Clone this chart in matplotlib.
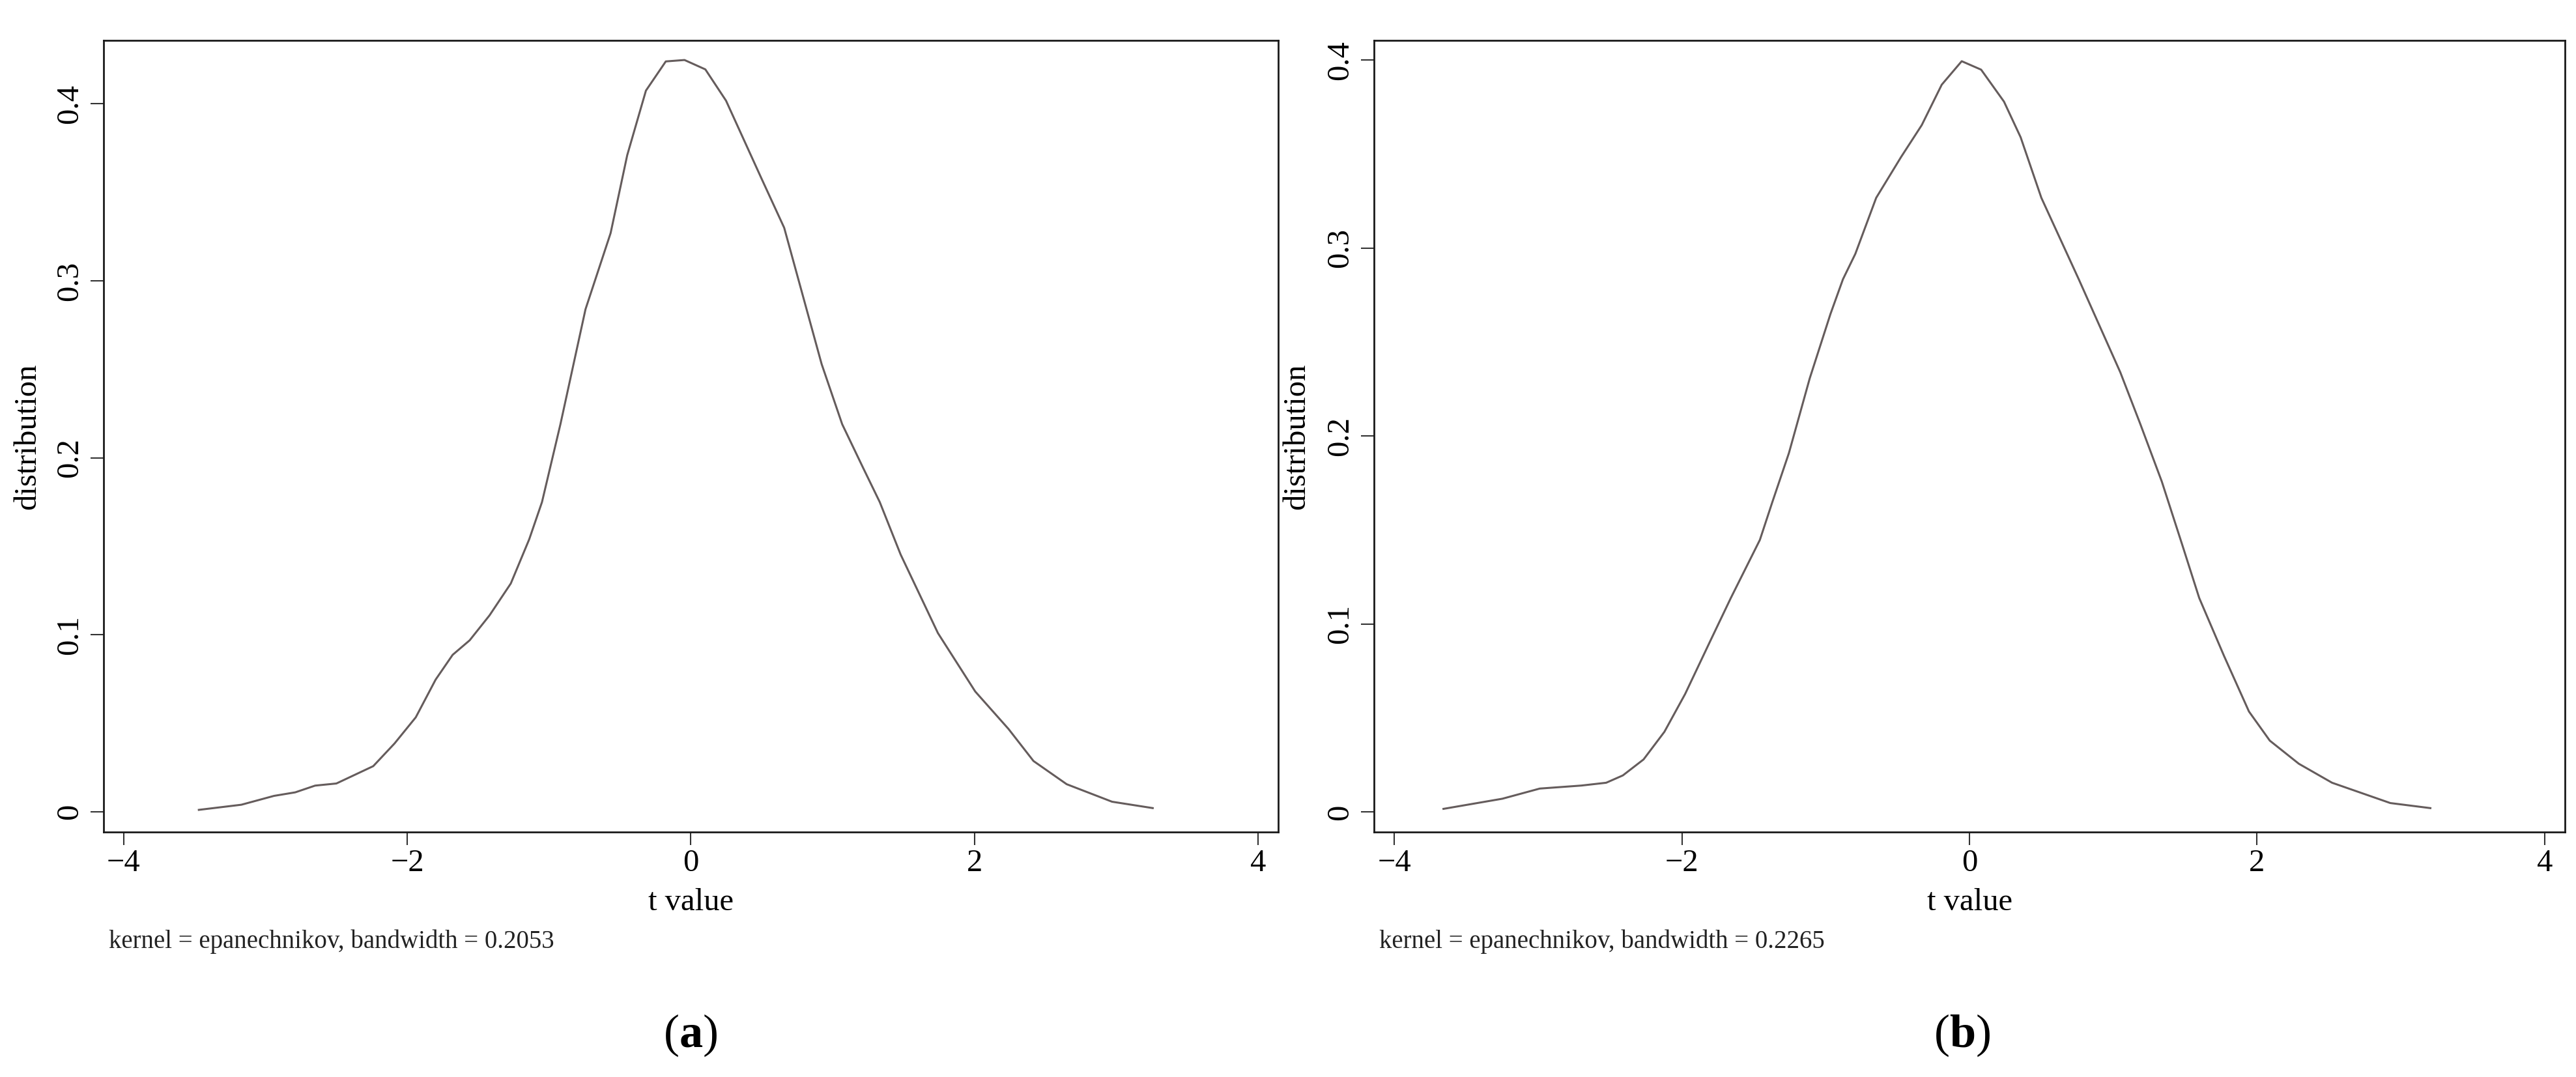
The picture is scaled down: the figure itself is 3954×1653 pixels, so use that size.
import matplotlib
matplotlib.use("Agg")
import matplotlib.pyplot as plt

plt.rcParams['font.family'] = ['Liberation Serif', 'DejaVu Serif']
plt.rcParams['mathtext.fontset'] = 'custom'
plt.rcParams['mathtext.rm'] = 'Liberation Serif'
plt.rcParams['mathtext.bf'] = 'Liberation Serif:bold'

# kernel density estimates
t_a = [-3.47, -3.17, -2.94, -2.79, -2.65, -2.50, -2.24, -2.09, -1.94, -1.80,
       -1.68, -1.56, -1.42, -1.27, -1.14, -1.05, -0.92, -0.743, -0.566, -0.449,
       -0.317, -0.177, -0.045, 0.102, 0.248, 0.497, 0.658, 0.922, 1.067, 1.213,
       1.332, 1.479, 1.742, 2.005, 2.24, 2.416, 2.65, 2.97, 3.257]
dens_a = [0.0011, 0.004, 0.009, 0.011, 0.0148, 0.016, 0.0258, 0.0386, 0.0534, 0.0747,
          0.0887, 0.0969, 0.111, 0.129, 0.154, 0.175, 0.219, 0.284, 0.327, 0.371,
          0.4075, 0.424, 0.4248, 0.4195, 0.4018, 0.358, 0.330, 0.253, 0.219, 0.1946,
          0.175, 0.1454, 0.101, 0.068, 0.0468, 0.0287, 0.0156, 0.0057, 0.0021]

t_b = [-3.659, -3.249, -2.989, -2.70, -2.527, -2.411, -2.267, -2.122, -1.978, -1.805,
       -1.66, -1.458, -1.371, -1.256, -1.111, -0.967, -0.88, -0.794, -0.649, -0.476,
       -0.332, -0.193, -0.054, 0.081, 0.24, 0.356, 0.50, 0.76, 1.049, 1.187,
       1.338, 1.482, 1.598, 1.771, 1.944, 2.089, 2.291, 2.522, 2.927, 3.206]
dens_b = [0.0017, 0.0071, 0.0125, 0.0141, 0.0156, 0.0195, 0.028, 0.0427, 0.0628, 0.0907,
          0.1139, 0.1448, 0.165, 0.191, 0.2308, 0.265, 0.2835, 0.297, 0.3268, 0.3485,
          0.3655, 0.387, 0.3995, 0.395, 0.378, 0.359, 0.3268, 0.2835, 0.234, 0.2067,
          0.1758, 0.1417, 0.1139, 0.083, 0.0535, 0.038, 0.0257, 0.0156, 0.0048, 0.0021]

xticks = [-4, -2, 0, 2, 4]
yticks_a = [0, 0.1, 0.2, 0.3, 0.4]
yticks_b = [0, 0.1, 0.2, 0.3, 0.4]
notes = ["kernel = epanechnikov, bandwidth = 0.2053",
         "kernel = epanechnikov, bandwidth = 0.2265"]
captions = [r"($\mathbf{a}$)", r"($\mathbf{b}$)"]

fig = plt.figure(figsize=(39.54, 16.53), dpi=100)
ax_a = fig.add_axes([0.0403, 0.2275, 0.4558, 0.7347])
ax_b = fig.add_axes([0.5335, 0.2275, 0.4621, 0.7347])

panels = [(ax_a, t_a, dens_a, yticks_a, (-0.0114, 0.4357)),
          (ax_b, t_b, dens_b, yticks_b, (-0.0106, 0.4104))]

for i, (ax, t, d, yt, ylim) in enumerate(panels):
    ax.plot(t, d, color='#655c5c', lw=2.2)
    ax.set_xlim(-4.14, 4.14)
    ax.set_ylim(*ylim)
    ax.set_xticks(xticks)
    ax.set_yticks(yt)
    ax.set_yticklabels([f"{v:g}" for v in yt])
    ax.tick_params(axis='both', direction='out', length=14.5, width=1.5,
                   color='#333333', labelsize=35)
    ax.tick_params(axis='x', pad=4)
    ax.tick_params(axis='y', pad=7, labelrotation=90)
    for lab in ax.get_yticklabels():
        lab.set_va('center')
    for sp in ax.spines.values():
        sp.set_linewidth(2.0)
        sp.set_color('#1a1a1a')

    ax.set_xlabel("t value", fontsize=35)
    ax.xaxis.label.set_va('baseline')
    ax.xaxis.set_label_coords(0.5, -0.0988)
    ax.set_ylabel("distribution", fontsize=35)
    ax.yaxis.set_label_coords(-0.053, 0.5)

    ax.text(0.004, -0.1466, notes[i], transform=ax.transAxes,
            fontsize=28, va='baseline', ha='left', color='#222222')

fig.text(0.268, 0.0387, captions[0], fontsize=52, ha='center', va='center')
fig.text(0.7617, 0.0387, captions[1], fontsize=52, ha='center', va='center')

fig.savefig("out.png", dpi=100, facecolor='white')
